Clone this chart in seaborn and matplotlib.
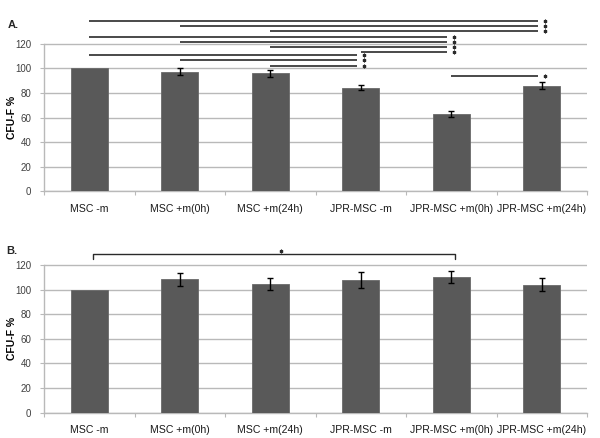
import matplotlib
matplotlib.use("Agg")
import matplotlib.pyplot as plt
import seaborn as sns
import pandas as pd
import numpy as np

categories = ["MSC -m", "MSC +m(0h)", "MSC +m(24h)", "JPR-MSC -m", "JPR-MSC +m(0h)", "JPR-MSC +m(24h)"]
a_values = [100, 97.5, 96, 84.5, 63, 86]
a_err = [0, 2.8, 2.6, 2.3, 2.8, 3.0]
b_values = [100, 108.3, 104.3, 108.1, 110.2, 104]
b_err = [0, 5.0, 4.9, 6.5, 5.0, 5.1]

# significance annotations for panel A: (from group, to group, height)
a_sig_from = [0, 1, 2, 0, 1, 2, 3, 0, 1, 2, 4]
a_sig_to = [5, 5, 5, 4, 4, 4, 4, 3, 3, 3, 5]
a_sig_y = [138.7, 134.6, 130.5, 125.9, 121.6, 117.6, 113.2, 111.0, 106.7, 102.3, 94.0]
# panel B bracket
b_sig_from, b_sig_to, b_sig_y = 0, 4, 128.8

sns.set_theme(style="white")
plt.rcParams['font.family'] = ['Liberation Sans', 'DejaVu Sans']

fig = plt.figure(figsize=(6.0, 4.38), dpi=100)
left, right = 44 / 600, 587 / 600
axA = fig.add_axes([left, 1 - 191.5 / 438, right - left, (191.5 - 18) / 438])
axB = fig.add_axes([left, 1 - 412.7 / 438, right - left, (412.7 - 249.1) / 438])

bar_color = "#595959"
grid_color = "#b9b9b9"


def draw_panel(ax, values, errs, ytop):
    df = pd.DataFrame({"cat": categories, "val": values})
    sns.barplot(data=df, x="cat", y="val", ax=ax, color=bar_color, width=0.405,
                saturation=1, edgecolor="#6a6a6a", linewidth=0.6, zorder=3)
    x = np.arange(len(categories))
    e = np.array(errs)
    mask = e > 0
    ax.errorbar(x[mask], np.array(values)[mask], yerr=e[mask], fmt="none",
                ecolor="black", elinewidth=1.0, capsize=2.5, capthick=1.0, zorder=4)
    ax.set_ylim(0, ytop)
    ax.set_xlim(-0.5, len(categories) - 0.5)
    ax.set_yticks(np.arange(0, 121, 20))
    ax.set_yticklabels([str(v) for v in range(0, 121, 20)], fontsize=7, color="#404040")
    ax.yaxis.grid(True, color=grid_color, linewidth=1.0, zorder=0)
    ax.set_axisbelow(True)
    for s in ["top", "right"]:
        ax.spines[s].set_visible(False)
    ax.spines["left"].set_bounds(0, 120)
    ax.spines["left"].set_color(grid_color)
    ax.spines["bottom"].set_color(grid_color)
    ax.spines["left"].set_linewidth(1.0)
    ax.spines["bottom"].set_linewidth(1.0)
    ax.tick_params(axis="y", which="both", left=True, length=3, width=0.8,
                   color=grid_color, pad=6)
    # category labels at centres, ticks at boundaries
    ax.set_xticks(x)
    ax.set_xticklabels(categories, fontsize=7.6, color="#1a1a1a")
    ax.tick_params(axis="x", which="major", bottom=False, length=0, pad=9)
    ax.set_xticks(np.arange(-0.5, len(categories), 1.0), minor=True)
    ax.tick_params(axis="x", which="minor", bottom=True, length=3, width=0.8, color=grid_color)
    ax.set_xlabel("")
    ax.set_ylabel("CFU-F %", fontsize=7.5, fontweight="bold", color="black")
    ax.yaxis.set_label_coords(-27 / 543, 60 / ytop)


draw_panel(axA, a_values, a_err, 141)
draw_panel(axB, b_values, b_err, 133)
fig.text(8 / 600, 1 - 25 / 438, "A.", fontsize=8, fontweight="bold", ha="left", va="center")
fig.text(6 / 600, 1 - 251 / 438, "B.", fontsize=8, fontweight="bold", ha="left", va="center")

# panel A significance lines
for i, j, y in zip(a_sig_from, a_sig_to, a_sig_y):
    axA.plot([i, j - 0.045], [y, y], color="#2a2a2a", lw=1.2, clip_on=False, zorder=5,
             solid_capstyle="butt")
    axA.plot([j + 0.035], [y], marker=(6, 2, 0), markersize=2.6, mew=0.8, color="#2a2a2a",
             clip_on=False, zorder=5)

# panel B bracket
yb = b_sig_y
axB.plot([b_sig_from + 0.04, b_sig_from + 0.04, b_sig_to + 0.04, b_sig_to + 0.04],
         [yb - 4.1, yb, yb, yb - 4.1], color="#2a2a2a", lw=1.0, clip_on=False, zorder=5)
axB.plot([(b_sig_from + b_sig_to) / 2 + 0.12], [yb + 2.7], marker=(6, 2, 0), markersize=2.6,
         mew=0.8, color="#2a2a2a", clip_on=False, zorder=5)

fig.savefig("out.png", dpi=100)
